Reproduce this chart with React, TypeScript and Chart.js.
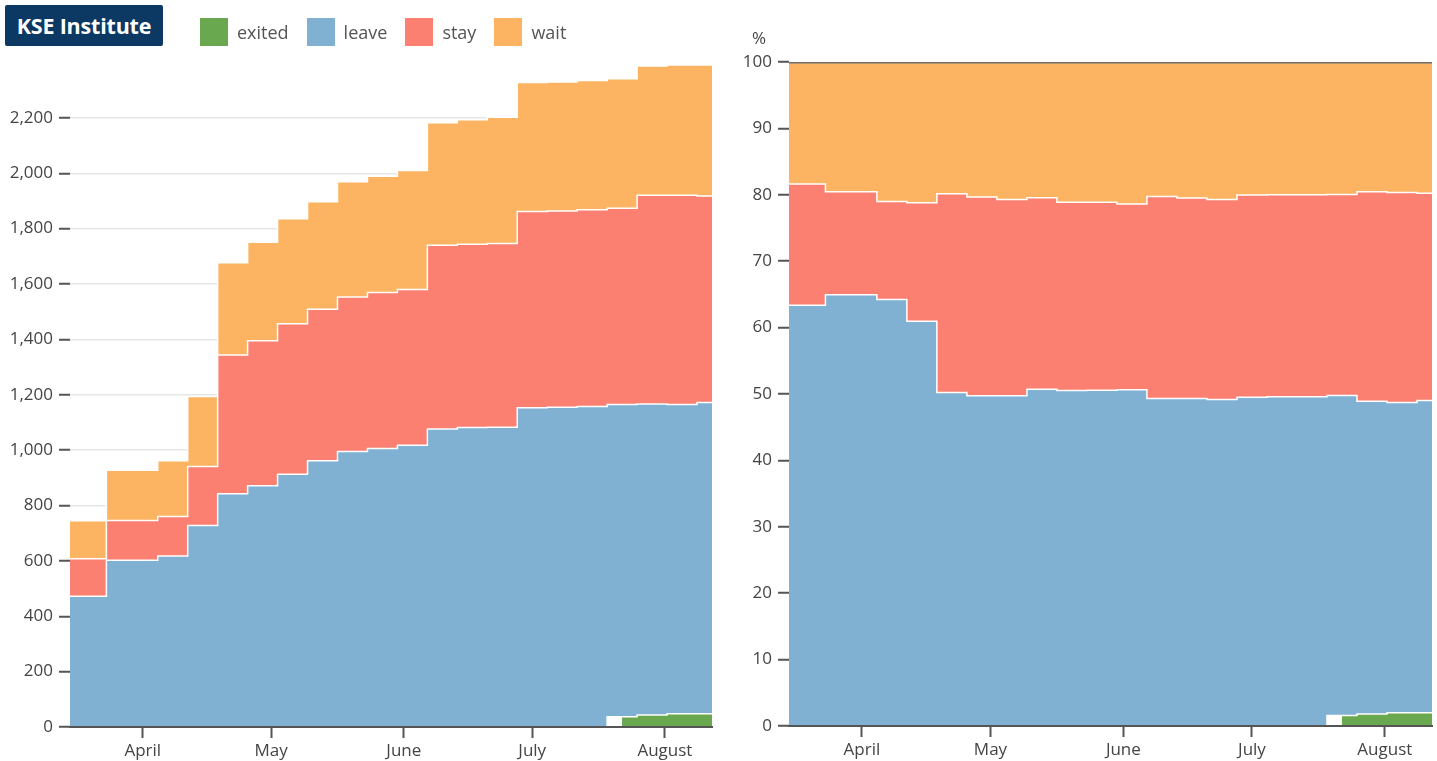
import React, { useEffect, useRef } from 'react';
import { Chart, registerables } from 'chart.js';

Chart.register(...registerables);

// ---------- data ----------
const seriesNames = ['exited', 'leave', 'stay', 'wait'];
const seriesColors = ['#6aa84f', '#80b1d3', '#fb8072', '#fdb462'];

const surveyDates = [
  '2022-03-15', '2022-04-01', '2022-04-08', '2022-04-15', '2022-04-22', '2022-04-29',
  '2022-05-06', '2022-05-13', '2022-05-20', '2022-05-27', '2022-06-03', '2022-06-10',
  '2022-06-17', '2022-06-24', '2022-07-01', '2022-07-08', '2022-07-15', '2022-07-22',
  '2022-07-29', '2022-08-05', '2022-08-12',
];

const exited: (number | null)[] = [
  null, null, null, null, null, null, null, null, null, null, null, null,
  null, null, null, null, null, 37, 43, 48, 48,
];
const leave = [
  472, 602, 618, 728, 842, 871, 913, 962, 995, 1006, 1018, 1076,
  1082, 1083, 1153, 1155, 1158, 1128, 1124, 1117, 1124,
];
const stay = [
  136, 144, 142, 213, 502, 524, 543, 547, 558, 563, 562, 664,
  662, 663, 709, 709, 710, 709, 754, 756, 746,
];
const wait = [
  137, 181, 202, 253, 333, 356, 380, 388, 416, 420, 430, 442,
  449, 456, 466, 466, 467, 467, 466, 470, 473,
];

const monthTickDates = ['2022-04-01', '2022-05-01', '2022-06-01', '2022-07-01', '2022-08-01'];
const monthTickLabels = ['April', 'May', 'June', 'July', 'August'];

const countTickStep = 200;
const shareTickStep = 10;

// ---------- helpers ----------
function dayOfYear(s: string) {
  const [y, m, d] = s.split('-').map(Number);
  return (Date.UTC(y, m - 1, d) - Date.UTC(y, 0, 0)) / 86400000;
}

const FONT = '"Open Sans", "Noto Sans", sans-serif';
const TICK_COLOR = '#444';
const AXIS_COLOR = '#555';

const surveyDays = surveyDates.map(dayOfYear);
const monthDays = monthTickDates.map(dayOfYear);
const rawSeries = [exited, leave, stay, wait];
const totals = surveyDays.map((_, i) => rawSeries.reduce((s, arr) => s + ((arr[i] as number) ?? 0), 0));

function buildConfig(share: boolean, layoutPad: any, yWidth: number, xHeight: number) {
  const datasets = seriesNames.map((name, si) => {
    const arr = rawSeries[si];
    const isTop = share && si === seriesNames.length - 1;
    const ds: any = {
      label: name,
      data: surveyDays.map((x, i) => {
        const v = (arr[i] as number) ?? 0;
        return { x, y: share ? (v / totals[i]) * 100 : v };
      }),
      backgroundColor: seriesColors[si],
      borderColor: isTop ? '#6e6e6e' : '#ffffff',
      borderWidth: isTop ? 3 : 1.5,
      fill: si <= 1 ? 'origin' : '-1',
      stepped: 'middle',
      pointRadius: 0,
      pointHoverRadius: 0,
    };
    if (si === 0) {
      ds.segment = {
        backgroundColor: (ctx: any) => (arr[ctx.p0DataIndex] == null ? '#ffffff' : undefined),
        borderColor: (ctx: any) =>
          arr[ctx.p0DataIndex] == null && arr[ctx.p1DataIndex] == null ? 'rgba(255,255,255,0)' : undefined,
      };
    }
    return ds;
  });

  const step = share ? shareTickStep : countTickStep;
  const yMax = share ? 100 : Math.max(...totals);

  return {
    type: 'line' as const,
    data: { datasets },
    options: {
      animation: false,
      responsive: false,
      events: [],
      layout: { padding: layoutPad },
      plugins: { legend: { display: false }, tooltip: { enabled: false } },
      scales: {
        x: {
          type: 'linear',
          min: surveyDays[0],
          max: surveyDays[surveyDays.length - 1],
          afterBuildTicks: (scale: any) => {
            scale.ticks = monthDays.map((v) => ({ value: v }));
          },
          afterFit: (scale: any) => {
            scale.height = xHeight;
          },
          ticks: {
            autoSkip: false,
            maxRotation: 0,
            padding: 3,
            color: TICK_COLOR,
            font: { family: FONT, size: 17 },
            callback: (v: any) => {
              const idx = monthDays.indexOf(Number(v));
              return idx >= 0 ? monthTickLabels[idx] : '';
            },
          },
          grid: {
            drawOnChartArea: false,
            drawTicks: true,
            tickLength: 11,
            tickColor: AXIS_COLOR,
            tickWidth: 2,
          },
          border: { display: true, color: AXIS_COLOR, width: 2, z: 1 },
        },
        y: {
          stacked: true,
          min: 0,
          max: yMax,
          afterBuildTicks: (scale: any) => {
            const t: any[] = [];
            for (let v = 0; v <= yMax + 1e-9; v += step) t.push({ value: v });
            scale.ticks = t;
          },
          afterFit: (scale: any) => {
            scale.width = yWidth;
          },
          ticks: {
            padding: 6,
            color: TICK_COLOR,
            font: { family: FONT, size: 17 },
            callback: (v: any) => Number(v).toLocaleString('en-US'),
          },
          grid: {
            drawOnChartArea: !share,
            color: '#e6e6e6',
            lineWidth: 1.5,
            drawTicks: true,
            tickLength: 11,
            tickColor: AXIS_COLOR,
            tickWidth: 2,
          },
          border: { display: false },
        },
      },
    },
  };
}

function StackChart(props: { share: boolean; left: number; width: number; pad: any; yWidth: number; xHeight: number }) {
  const ref = useRef<HTMLCanvasElement | null>(null);
  useEffect(() => {
    if (!ref.current) return;
    const chart = new Chart(ref.current, buildConfig(props.share, props.pad, props.yWidth, props.xHeight) as any);
    return () => chart.destroy();
  }, []);
  return (
    <canvas
      ref={ref}
      width={props.width}
      height={761}
      style={{ position: 'absolute', left: props.left, top: 0, width: props.width, height: 761, display: 'block' }}
    />
  );
}

export default function App() {
  useEffect(() => {
    document.body.style.overflow = 'hidden';
  }, []);
  return (
    <div
      style={{
        position: 'absolute',
        left: 0,
        top: 0,
        width: 1437,
        height: 761,
        overflow: 'hidden',
        background: '#ffffff',
        fontFamily: FONT,
      }}
    >
      <StackChart share={false} left={0} width={720} pad={{ top: 65, right: 8, left: 0, bottom: 0 }} yWidth={70} xHeight={34} />
      <StackChart share={true} left={720} width={717} pad={{ top: 62, right: 5, left: 0, bottom: 0 }} yWidth={69} xHeight={35} />

      <div
        style={{
          position: 'absolute',
          left: 5,
          top: 5,
          width: 158,
          height: 41,
          background: '#0b3963',
          color: '#ffffff',
          fontWeight: 700,
          fontSize: 21.5,
          display: 'flex',
          alignItems: 'center',
          justifyContent: 'center',
          borderRadius: 2,
          letterSpacing: -0.2,
          whiteSpace: 'nowrap',
        }}
      >
        KSE Institute
      </div>

      <div style={{ position: 'absolute', left: 200, top: 18, display: 'flex', alignItems: 'center', height: 28 }}>
        {seriesNames.map((name, i) => (
          <div key={name} style={{ display: 'flex', alignItems: 'center', marginRight: 18 }}>
            <div style={{ width: 28, height: 28, background: seriesColors[i], marginRight: 9 }} />
            <span style={{ fontSize: 18, color: '#555', lineHeight: '28px' }}>{name}</span>
          </div>
        ))}
      </div>

      <div style={{ position: 'absolute', left: 752, top: 27, fontSize: 17, color: TICK_COLOR, lineHeight: '22px' }}>%</div>
    </div>
  );
}
